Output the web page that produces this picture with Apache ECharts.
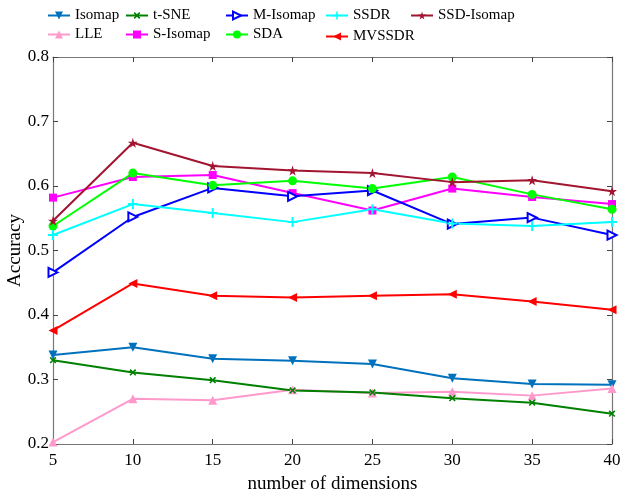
<!DOCTYPE html>
<html>
<head>
<meta charset="utf-8">
<script src="https://cdn.jsdelivr.net/npm/echarts@6/dist/echarts.min.js"></script>
<style>html,body{margin:0;padding:0;background:#fff}#c{width:625px;height:494px}</style>
</head>
<body>
<div id="c"></div>
<script>
const dims = [5, 10, 15, 20, 25, 30, 35, 40];
const yTicks = [0.2, 0.3, 0.4, 0.5, 0.6, 0.7, 0.8];
const isomap    = [0.338, 0.350, 0.332, 0.329, 0.324, 0.302, 0.293, 0.292];
const lle       = [0.203, 0.270, 0.268, 0.284, 0.279, 0.281, 0.275, 0.286];
const tsne      = [0.330, 0.311, 0.299, 0.283, 0.280, 0.271, 0.264, 0.247];
const sIsomap   = [0.582, 0.614, 0.617, 0.589, 0.562, 0.596, 0.583, 0.572];
const mIsomap   = [0.466, 0.552, 0.597, 0.584, 0.593, 0.541, 0.551, 0.524];
const sda       = [0.538, 0.620, 0.601, 0.608, 0.596, 0.614, 0.587, 0.564];
const ssdr      = [0.524, 0.572, 0.558, 0.544, 0.564, 0.542, 0.538, 0.544];
const mvssdr    = [0.376, 0.449, 0.430, 0.427, 0.430, 0.432, 0.421, 0.408];
const ssdIsomap = [0.546, 0.667, 0.631, 0.624, 0.620, 0.606, 0.609, 0.592];

const FONT = '"Liberation Serif", "Times New Roman", serif';
const PLUS = 'path://M4,0H6V4H10V6H6V10H4V6H0V4H4Z';
const STAR = 'path://M50,0L61,35L98,35L68,57L79,91L50,70L21,91L32,57L2,35L39,35Z';

function mk(name, data, color, symbol, opts) {
  opts = opts || {};
  return {
    name: name, type: 'line', data: dims.map((d, i) => [d, data[i]]),
    symbol: symbol, symbolSize: opts.size || 8, symbolRotate: opts.rot || 0,
    showSymbol: true,
    lineStyle: { color: color, width: 2 },
    itemStyle: opts.hollow ? { color: '#fff', borderColor: color, borderWidth: 2 } : { color: color, borderWidth: 0 },
    emphasis: { disabled: true },
    animation: false
  };
}

const series = [
  mk('Isomap', isomap, '#0072BD', 'triangle', { rot: 180, size: 9 }),
  mk('LLE', lle, '#FF99CC', 'triangle', { size: 9 }),
  mk('t-SNE', tsne, '#008000', PLUS, { rot: 45, size: 8 }),
  mk('S-Isomap', sIsomap, '#FF00FF', 'rect', { size: 8 }),
  mk('M-Isomap', mIsomap, '#0000FF', 'triangle', { rot: -90, size: 9, hollow: true }),
  mk('SDA', sda, '#00FF00', 'circle', { size: 9 }),
  mk('SSDR', ssdr, '#00FFFF', PLUS, { size: 10 }),
  mk('MVSSDR', mvssdr, '#FF0000', 'triangle', { rot: 90, size: 9 }),
  mk('SSD-Isomap', ssdIsomap, '#A2142F', STAR, { size: 10 })
];

const legendPos = [
  ['Isomap', 47, 8], ['t-SNE', 125, 8], ['M-Isomap', 225, 8], ['SSDR', 325, 8], ['SSD-Isomap', 410, 8],
  ['LLE', 47, 27], ['S-Isomap', 125, 27], ['SDA', 225, 27], ['MVSSDR', 325, 29]
];
const legends = legendPos.map(p => ({
  data: [p[0]], left: p[1], top: p[2], itemWidth: 22, itemHeight: 10, itemGap: 4,
  textStyle: { fontFamily: FONT, fontSize: 15, color: '#000', padding: [0, 0, 0, 0] },
  selectedMode: false, padding: 0
}));

const tickStyle = { show: true, inside: true, length: 5, lineStyle: { color: '#444', width: 1 } };
const lineSt = { show: true, lineStyle: { color: '#777', width: 1.2 } };

const option = {
  backgroundColor: '#fff',
  animation: false,
  legend: legends,
  grid: { left: 53, right: 13, top: 57, bottom: 50, containLabel: false, outerBoundsMode: 'none' },
  xAxis: [
    { type: 'value', min: 5, max: 40, interval: 5, position: 'bottom',
      name: 'number of dimensions', nameLocation: 'middle', nameGap: 31, nameMoveOverlap: false,
      nameTextStyle: { fontFamily: FONT, fontSize: 19, color: '#000' },
      axisLine: lineSt, axisTick: tickStyle, splitLine: { show: false },
      axisLabel: { fontFamily: FONT, fontSize: 17, color: '#000', margin: 8 } },
    { type: 'value', min: 5, max: 40, interval: 5, position: 'top',
      axisLine: lineSt, axisTick: tickStyle, splitLine: { show: false }, axisLabel: { show: false } }
  ],
  yAxis: [
    { type: 'value', min: 0.2, max: 0.8, interval: 0.1, position: 'left',
      name: 'Accuracy', nameLocation: 'middle', nameGap: 28, nameMoveOverlap: false,
      nameTextStyle: { fontFamily: FONT, fontSize: 19, color: '#000' },
      axisLine: lineSt, axisTick: tickStyle, splitLine: { show: false },
      axisLabel: { fontFamily: FONT, fontSize: 17, color: '#000', margin: 4,
        formatter: v => { const t = yTicks.find(k => Math.abs(k - v) < 1e-6); return t !== undefined ? t.toFixed(1) : ''; } } },
    { type: 'value', min: 0.2, max: 0.8, interval: 0.1, position: 'right',
      axisLine: lineSt, axisTick: tickStyle, splitLine: { show: false }, axisLabel: { show: false } }
  ],
  series: series
};
const chart = echarts.init(document.getElementById('c'), null, { renderer: 'canvas' });
chart.setOption(option);
</script>
</body>
</html>
